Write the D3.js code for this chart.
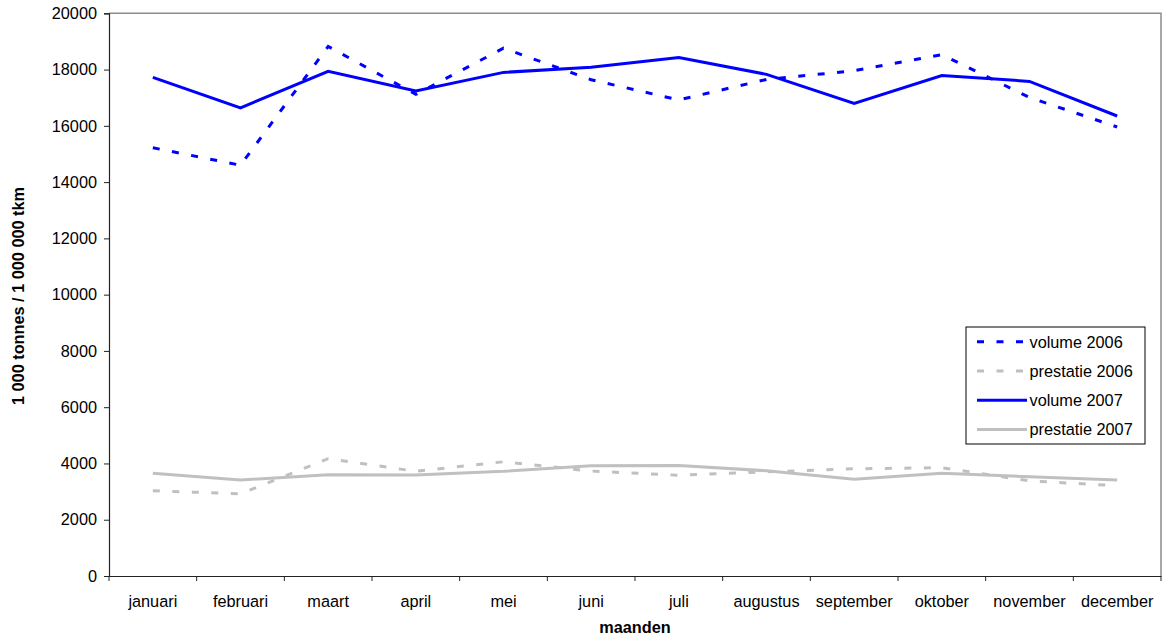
<!DOCTYPE html>
<html>
<head>
<meta charset="utf-8">
<script src="https://cdn.jsdelivr.net/npm/d3@7/dist/d3.min.js"></script>
<style>
  html, body { margin: 0; padding: 0; background: #fff; }
  svg { display: block; font-family: "Liberation Sans", Arial, sans-serif; }
</style>
</head>
<body>
<svg id="chart" width="1164" height="641"></svg>
<script>
const months = ["januari","februari","maart","april","mei","juni","juli","augustus","september","oktober","november","december"];
const volume2006 = [15220, 14600, 18820, 17120, 18760, 17640, 16920, 17650, 17960, 18530, 17010, 15960];
const prestatie2006 = [3030, 2920, 4170, 3720, 4060, 3730, 3580, 3700, 3810, 3850, 3380, 3210];
const volume2007 = [17720, 16640, 17940, 17240, 17900, 18080, 18430, 17830, 16800, 17790, 17580, 16350];
const prestatie2007 = [3650, 3410, 3600, 3590, 3720, 3920, 3930, 3740, 3440, 3650, 3530, 3410];
const yTicks = [0, 2000, 4000, 6000, 8000, 10000, 12000, 14000, 16000, 18000, 20000];
const seriesNames = ["volume 2006", "prestatie 2006", "volume 2007", "prestatie 2007"];

const series = [
  { name: seriesNames[0], values: volume2006, color: "#0000FF", dash: "7,12.5" },
  { name: seriesNames[1], values: prestatie2006, color: "#C0C0C0", dash: "7,12.5" },
  { name: seriesNames[2], values: volume2007, color: "#0000FF", dash: null },
  { name: seriesNames[3], values: prestatie2007, color: "#C0C0C0", dash: null }
];

const svg = d3.select("#chart");
const pLeft = 109, pRight = 1161, pTop = 13.3, pBottom = 576;
const fs = "16.3px";

const x = d3.scaleBand().domain(months).range([pLeft, pRight]).padding(0);
const y = d3.scaleLinear().domain([0, 20000]).range([pBottom, pTop]);

// plot border (top & right gray)
svg.append("path")
  .attr("d", `M${pLeft},${pTop}H${pRight}V${pBottom}`)
  .attr("fill", "none").attr("stroke", "#8c8c8c").attr("stroke-width", 1.5);

// Y axis
const yAxis = svg.append("g").attr("transform", `translate(${pLeft},0)`)
  .call(d3.axisLeft(y).tickValues(yTicks).tickSize(5).tickPadding(7).tickFormat(d3.format("d")));
yAxis.select(".domain").attr("stroke", "#222").attr("stroke-width", 1.2);
yAxis.selectAll(".tick line").attr("stroke", "#222");
yAxis.selectAll("text").attr("font-size", fs).attr("fill", "#000").attr("font-family", "Liberation Sans, Arial, sans-serif");

// X axis
const xAxis = svg.append("g").attr("transform", `translate(0,${pBottom})`)
  .call(d3.axisBottom(x).tickSize(0).tickPadding(19));
xAxis.select(".domain").attr("stroke", "#222").attr("stroke-width", 1.2);
xAxis.selectAll("text").attr("font-size", fs).attr("fill", "#000").attr("font-family", "Liberation Sans, Arial, sans-serif");
// tick marks at category boundaries
const bounds = months.map(m => x(m)).concat([pRight]);
xAxis.selectAll("line.bound").data(bounds).enter().append("line")
  .attr("class", "bound")
  .attr("x1", d => d).attr("x2", d => d).attr("y1", 0).attr("y2", 5)
  .attr("stroke", "#222");

// lines
const line = d3.line()
  .x((d, i) => x(months[i]) + x.bandwidth() / 2)
  .y(d => y(d));

series.forEach(s => {
  svg.append("path")
    .datum(s.values)
    .attr("d", line)
    .attr("fill", "none")
    .attr("stroke", s.color)
    .attr("stroke-width", 3)
    .attr("stroke-dasharray", s.dash)
    .attr("stroke-linejoin", "miter");
});

// axis titles
svg.append("text")
  .attr("x", (pLeft + pRight) / 2).attr("y", 633)
  .attr("text-anchor", "middle").attr("font-weight", "bold").attr("font-size", fs)
  .text("maanden");
svg.append("text")
  .attr("transform", "translate(24,296) rotate(-90)")
  .attr("text-anchor", "middle").attr("font-weight", "bold").attr("font-size", fs)
  .text("1 000 tonnes / 1 000 000 tkm");

// legend
const lg = svg.append("g");
lg.append("rect").attr("x", 966).attr("y", 327).attr("width", 179).attr("height", 117)
  .attr("fill", "#fff").attr("stroke", "#000").attr("stroke-width", 1);
series.forEach((s, i) => {
  const cy = 341.7 + i * 29.3;
  lg.append("line").attr("x1", 977).attr("x2", 1027).attr("y1", cy).attr("y2", cy)
    .attr("stroke", s.color).attr("stroke-width", 3).attr("stroke-dasharray", s.dash);
  lg.append("text").attr("x", 1029.5).attr("y", cy).attr("dy", "0.36em")
    .attr("font-size", fs).text(s.name);
});
</script>
</body>
</html>
